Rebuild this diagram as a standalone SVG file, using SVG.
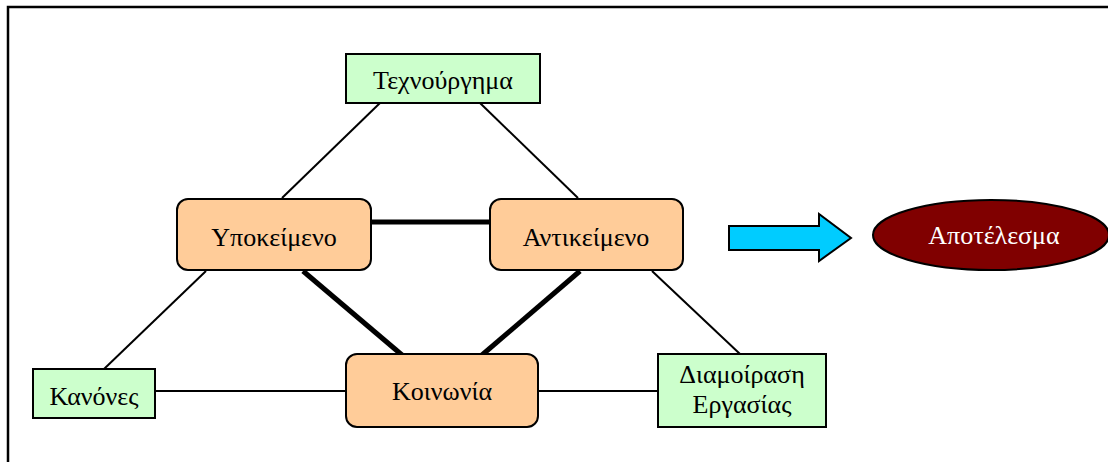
<svg xmlns="http://www.w3.org/2000/svg" width="1108" height="462" viewBox="0 0 1108 462">
<style>
.t{font-family:"Liberation Serif","Times New Roman",serif;font-size:26px;fill:#000;text-anchor:middle}
.g{fill:#ccffcc;stroke:#000;stroke-width:2}
.o{fill:#ffcc99;stroke:#000;stroke-width:2}
.thin{stroke:#000;stroke-width:2;fill:none}
.thick{stroke:#000;stroke-width:5;fill:none}
</style>
<rect width="1108" height="462" fill="#fff"/>
<rect x="8" y="7" width="1110" height="470" fill="none" stroke="#000" stroke-width="2.5"/>
<g id="connectors">
<line class="thin" x1="380" y1="103" x2="282" y2="198"/>
<line class="thin" x1="480" y1="103" x2="578" y2="198"/>
<line class="thin" x1="206" y1="271" x2="104" y2="369"/>
<line class="thin" x1="652" y1="271" x2="740" y2="354"/>
<line class="thin" x1="155" y1="391" x2="346" y2="391"/>
<line class="thin" x1="538" y1="391" x2="658" y2="391"/>
<line class="thick" x1="371" y1="222" x2="490" y2="222"/>
<line class="thick" x1="303" y1="271" x2="402" y2="355"/>
<line class="thick" x1="580" y1="271" x2="482" y2="355"/>
</g>
<g id="texnourgima">
<rect class="g" x="346" y="54" width="194" height="49"/>
<text class="t" x="443" y="89">Τεχνούργημα</text>
</g>
<g id="ypokeimeno">
<rect class="o" x="177" y="199" width="194" height="71" rx="11"/>
<text class="t" x="274" y="246">Υποκείμενο</text>
</g>
<g id="antikeimeno">
<rect class="o" x="490" y="199" width="193" height="71" rx="11"/>
<text class="t" x="586" y="246">Αντικείμενο</text>
</g>
<g id="koinonia">
<rect class="o" x="346" y="354" width="192" height="73" rx="11"/>
<text class="t" x="442" y="400">Κοινωνία</text>
</g>
<g id="kanones">
<rect class="g" x="33" y="369" width="122" height="49"/>
<text class="t" x="94" y="405">Κανόνες</text>
</g>
<g id="diamoirasi">
<rect class="g" x="658" y="354" width="168" height="73"/>
<text class="t" x="742" y="383">Διαμοίραση</text>
<text class="t" x="742" y="413">Εργασίας</text>
</g>
<g id="arrow">
<polygon points="729,226 819,226 819,214 851,238 819,261 819,250 729,250" fill="#00ccff" stroke="#000" stroke-width="2"/>
</g>
<g id="apotelesma">
<ellipse cx="991" cy="235" rx="118" ry="35" fill="#800000" stroke="#000" stroke-width="2"/>
<text class="t" x="994" y="244" style="fill:#fff">Αποτέλεσμα</text>
</g>
</svg>
